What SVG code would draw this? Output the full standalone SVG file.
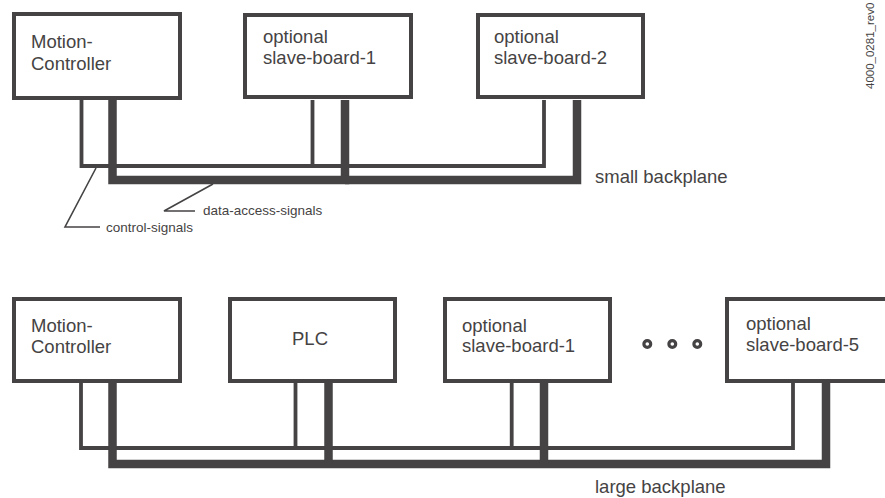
<svg xmlns="http://www.w3.org/2000/svg" width="885" height="498" viewBox="0 0 885 498">
<style>
.box{fill:#fff;stroke:#454343;stroke-width:4}
.lbl{font-family:"Liberation Sans",Arial,sans-serif;font-size:18.5px;fill:#454343}
.sm{font-family:"Liberation Sans",Arial,sans-serif;font-size:13.5px;fill:#454343}
.ctl{fill:none;stroke:#454343;stroke-width:3.8;stroke-linejoin:miter}
.dat{fill:none;stroke:#454343;stroke-width:8.5;stroke-linejoin:miter}
.lead{fill:none;stroke:#454343;stroke-width:1.6}
.dot{fill:#fff;stroke:#454343;stroke-width:3.2}
</style>
<rect width="885" height="498" fill="#fff"/>
<g id="connectors">
<polyline class="ctl" points="81.5,100 81.5,166 312.5,166 312.5,100"/>
<polyline class="ctl" points="312.5,166 544,166 544,100"/>
<polyline class="dat" points="112.5,100 112.5,180 345,180 345,100"/>
<polyline class="dat" points="345,180 577,180 577,100"/>
<polyline class="lead" points="96,168 65,227 100,227"/>
<polyline class="lead" points="213,184 164,211 195,211"/>
<polyline class="ctl" points="81,383 81,448 793,448 793,383"/>
<line class="ctl" x1="295.5" y1="383" x2="295.5" y2="448"/>
<line class="ctl" x1="511.7" y1="383" x2="511.7" y2="448"/>
<polyline class="dat" points="112.5,383 112.5,464 826,464 826,383"/>
<line class="dat" x1="328.5" y1="383" x2="328.5" y2="464"/>
<line class="dat" x1="544" y1="383" x2="544" y2="464"/>
</g>
<g id="top-motion-controller">
<rect class="box" x="14" y="14" width="166" height="84"/>
<text class="lbl" x="31" y="48">Motion-</text>
<text class="lbl" x="31" y="70">Controller</text>
</g>
<g id="top-slave-board-1">
<rect class="box" x="245" y="15" width="166" height="82"/>
<text class="lbl" x="263" y="43">optional</text>
<text class="lbl" x="263" y="64">slave-board-1</text>
</g>
<g id="top-slave-board-2">
<rect class="box" x="478" y="15" width="165" height="82"/>
<text class="lbl" x="494" y="43">optional</text>
<text class="lbl" x="494" y="64">slave-board-2</text>
</g>
<text class="lbl" x="595" y="183">small backplane</text>
<text class="sm" x="203" y="215">data-access-signals</text>
<text class="sm" x="106" y="232">control-signals</text>
<g id="bottom-motion-controller">
<rect class="box" x="14" y="299" width="166" height="82"/>
<text class="lbl" x="31" y="332">Motion-</text>
<text class="lbl" x="31" y="353">Controller</text>
</g>
<g id="bottom-plc">
<rect class="box" x="230" y="299" width="165" height="82"/>
<text class="lbl" x="292" y="345">PLC</text>
</g>
<g id="bottom-slave-board-1">
<rect class="box" x="445" y="299" width="165" height="82"/>
<text class="lbl" x="462" y="332">optional</text>
<text class="lbl" x="462" y="352">slave-board-1</text>
</g>
<g id="ellipsis">
<circle class="dot" cx="647.3" cy="344" r="3.4"/>
<circle class="dot" cx="672.3" cy="344" r="3.4"/>
<circle class="dot" cx="697.3" cy="344" r="3.4"/>
</g>
<g id="bottom-slave-board-5">
<rect class="box" x="727" y="299" width="170" height="82"/>
<text class="lbl" x="746" y="330">optional</text>
<text class="lbl" x="746" y="351">slave-board-5</text>
</g>
<text class="lbl" x="595" y="493">large backplane</text>
<text class="sm" style="font-size:11.5px" x="874" y="89" transform="rotate(-90 874 89)">4000_0281_rev0</text>
</svg>
